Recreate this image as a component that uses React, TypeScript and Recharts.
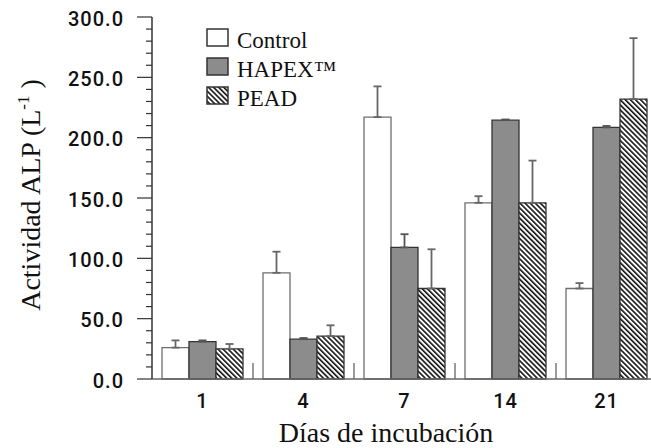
import React from 'react';
import { BarChart, Bar, XAxis, YAxis, ErrorBar, Legend, Label } from 'recharts';

const days = ['1', '4', '7', '14', '21'];
const controlValues = [26, 88, 217, 146, 75];
const controlErrors = [6, 17.5, 25.5, 5.5, 4.5];
const hapexValues = [31, 33, 109, 214.5, 208.5];
const hapexErrors = [1, 1, 11, 0.6, 1.2];
const peadValues = [25, 35.5, 75, 146, 232];
const peadErrors = [4, 9, 32.5, 35, 50.5];
const yMajorTicks = [0, 50, 100, 150, 200, 250, 300];
const yAllTicks = [0, 10, 20, 30, 40, 50, 60, 70, 80, 90, 100, 110, 120, 130, 140, 150, 160, 170, 180, 190, 200, 210, 220, 230, 240, 250, 260, 270, 280, 290, 300];
const seriesNames = ['Control', 'HAPEX™', 'PEAD'];

const data = days.map((day, i) => ({
  day,
  control: controlValues[i],
  controlErr: [0, controlErrors[i]],
  hapex: hapexValues[i],
  hapexErr: [0, hapexErrors[i]],
  pead: peadValues[i],
  peadErr: [0, peadErrors[i]],
}));

const SERIF = '"Liberation Serif", "Times New Roman", Times, serif';
const SANS = 'Roboto, Arial, sans-serif';

const seriesStyles = [
  { fill: '#ffffff', stroke: '#6e6e6e' },
  { fill: '#8c8c8c', stroke: '#333333' },
  { fill: 'url(#peadHatch)', stroke: '#333333' },
];

const YTick = (props: any) => {
  const { x, y, payload } = props;
  const v = payload.value;
  const major = yMajorTicks.includes(v);
  return (
    <g>
      <line x1={x - (major ? 15 : 6)} x2={x} y1={y} y2={y} stroke="#333" strokeWidth={1.2} />
      {major && (
        <text x={x - 28} y={y} dy={8.5} textAnchor="end" fontFamily={SANS} fontSize={20} fontWeight={500} letterSpacing={1} fill="#111">
          {Number(v).toFixed(1)}
        </text>
      )}
    </g>
  );
};

const XTick = (props: any) => {
  const { x, y, payload } = props;
  const idx = props.index ?? days.indexOf(String(payload.value));
  const off = payload.offset ?? 0;
  return (
    <g>
      <text x={x} y={y + 29} textAnchor="middle" fontFamily={SANS} fontSize={20} fontWeight={500} letterSpacing={1} fill="#111">
        {payload.value}
      </text>
      {idx < days.length - 1 && off > 0 && (
        <line x1={x + off} x2={x + off} y1={y} y2={y - 16} stroke="#666" strokeWidth={1.3} />
      )}
    </g>
  );
};

const YLabel = (props: any) => {
  const vb = props.viewBox || { x: 0, y: 17, width: 152, height: 362 };
  const cx = vb.x + 40;
  const cy = vb.y + vb.height / 2 - 3;
  return (
    <text x={cx} y={cy} transform={`rotate(-90, ${cx}, ${cy})`} textAnchor="middle" fontFamily={SERIF} fontSize={28} fill="#111">
      Actividad ALP (L<tspan dy={-11} fontSize={17}>-1</tspan><tspan dy={11}> )</tspan>
    </text>
  );
};

const XLabel = (props: any) => {
  const vb = props.viewBox || { x: 152, y: 379, width: 505, height: 69 };
  return (
    <text x={vb.x + 234} y={vb.y + 63} textAnchor="middle" fontFamily={SERIF} fontSize={28} fill="#111">
      Días de incubación
    </text>
  );
};

const LegendContent = () => (
  <svg width={150} height={84}>
    {seriesNames.map((name, i) => (
      <g key={name} transform={`translate(0, ${i * 29})`}>
        <rect x={1} y={1} width={21} height={17} fill={seriesStyles[i].fill} stroke="#333" strokeWidth={1.5} />
        <text x={31} y={19.5} fontFamily={SERIF} fontSize={23} fill="#111">{name}</text>
      </g>
    ))}
  </svg>
);

export default function App() {
  return (
    <div style={{ position: 'absolute', left: 0, top: 0, width: 651, height: 448, overflow: 'hidden', background: '#fff' }}>
      <svg width={0} height={0} style={{ position: 'absolute' }}>
        <defs>
          <pattern id="peadHatch" patternUnits="userSpaceOnUse" width={3.6} height={3.6} patternTransform="rotate(-45)">
            <rect width={3.6} height={3.6} fill="#fff" />
            <rect width={1.6} height={3.6} fill="#111" />
          </pattern>
        </defs>
      </svg>
      <BarChart width={662} height={448} data={data} margin={{ top: 17, right: 5, bottom: 0, left: 0 }} barCategoryGap={10} barGap={0}>
        <XAxis dataKey="day" height={69} tickSize={0} tickMargin={0} tickLine={false} interval={0}
          axisLine={{ stroke: '#666', strokeWidth: 1.5 }} tick={XTick}>
          <Label content={XLabel} />
        </XAxis>
        <YAxis width={152} domain={[0, 300]} ticks={yAllTicks} interval={0} tickSize={0} tickMargin={0} tickLine={false}
          axisLine={{ stroke: '#333', strokeWidth: 1.5 }} tick={YTick}>
          <Label content={YLabel} />
        </YAxis>
        <Legend layout="vertical" align="center" verticalAlign="middle" content={LegendContent}
          wrapperStyle={{ left: 206, top: 28, width: 150, height: 84 }} />
        <Bar dataKey="control" name={seriesNames[0]} fill={seriesStyles[0].fill} stroke={seriesStyles[0].stroke} strokeWidth={1.3} isAnimationActive={false}>
          <ErrorBar dataKey="controlErr" direction="y" width={4} stroke="#666" strokeWidth={1.8} />
        </Bar>
        <Bar dataKey="hapex" name={seriesNames[1]} fill={seriesStyles[1].fill} stroke={seriesStyles[1].stroke} strokeWidth={1.3} isAnimationActive={false}>
          <ErrorBar dataKey="hapexErr" direction="y" width={4} stroke="#555" strokeWidth={1.8} />
        </Bar>
        <Bar dataKey="pead" name={seriesNames[2]} fill={seriesStyles[2].fill} stroke={seriesStyles[2].stroke} strokeWidth={1.3} isAnimationActive={false}>
          <ErrorBar dataKey="peadErr" direction="y" width={4} stroke="#666" strokeWidth={1.8} />
        </Bar>
      </BarChart>
    </div>
  );
}
